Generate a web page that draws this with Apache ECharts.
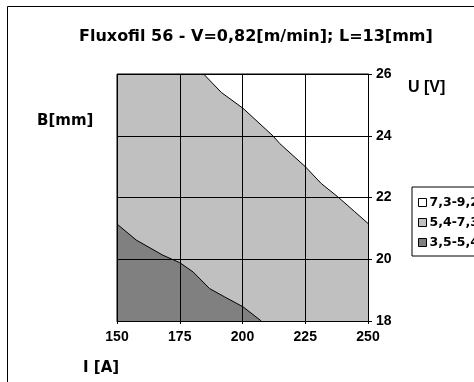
<!DOCTYPE html>
<html>
<head>
<meta charset="utf-8">
<script src="https://cdn.jsdelivr.net/npm/echarts@6/dist/echarts.min.js"></script>
<style>
html,body{margin:0;padding:0;background:#fff;}
#chart{width:474px;height:382px;}
</style>
</head>
<body>
<div id="chart"></div>
<script>
// ---- data ----
const titleText = 'Fluxofil 56 - V=0,82[m/min]; L=13[mm]';
const xTicks = [150, 175, 200, 225, 250];
const yTicks = [18, 20, 22, 24, 26];
const levelNames = ['7,3-9,2', '5,4-7,3', '3,5-5,4'];
const levelColors = ['#ffffff', '#c0c0c0', '#808080'];

// boundary between 7,3-9,2 (above) and 5,4-7,3
const upperI = [184.5, 191.6, 200.2, 212.2, 214.8, 225.0, 231.4, 238.0, 244.7, 250.0];
const upperU = [26.0, 25.4, 24.89, 23.99, 23.75, 23.0, 22.45, 22.02, 21.54, 21.16];
// boundary between 5,4-7,3 and 3,5-5,4 (below)
const lowerI = [150.0, 157.7, 168.3, 175.0, 180.3, 186.9, 192.9, 200.2, 207.5];
const lowerU = [21.14, 20.62, 20.13, 19.89, 19.59, 19.05, 18.78, 18.46, 18.0];
// middle level spans the whole plot
const fullI = [150, 250];
const fullU = [26, 26];

const pairs = (xs, ys) => xs.map((x, i) => [x, ys[i]]);

const chart = echarts.init(document.getElementById('chart'), null, {renderer: 'canvas'});
const tickFont = {fontFamily: 'Liberation Sans, Arial', fontWeight: 'bold', fontSize: 14, color: '#000'};

chart.setOption({
  animation: false,
  backgroundColor: '#fff',
  graphic: [
    {type: 'rect', shape: {x: 7.5, y: 6.5, width: 520, height: 420}, style: {fill: 'none', stroke: '#000', lineWidth: 1}, z: 0},
    {type: 'text', left: 37, top: 114, style: {text: 'B[mm]', font: 'bold 15px "DejaVu Sans"', fill: '#000'}},
    {type: 'text', left: 408, top: 80, style: {text: 'U [V]', font: 'bold 16px "Liberation Sans"', fill: '#000'}},
    {type: 'text', left: 83, top: 361, style: {text: 'I [A]', font: 'bold 15px "DejaVu Sans"', fill: '#000'}}
  ],
  title: {
    text: titleText,
    left: 74, top: 24,
    textStyle: {fontFamily: 'DejaVu Sans', fontWeight: 'bold', fontSize: 16, color: '#000'}
  },
  legend: {
    orient: 'vertical',
    left: 412, top: 187,
    padding: [9, 30, 7, 6],
    itemWidth: 8, itemHeight: 8, itemGap: 7,
    icon: 'rect',
    borderColor: '#000', borderWidth: 1,
    textStyle: {fontFamily: 'DejaVu Sans', fontWeight: 'bold', fontSize: 12.5, color: '#000', padding: [0,0,0,-2]},
    data: levelNames.map((n, i) => ({name: n, itemStyle: {color: levelColors[i], borderColor: '#000', borderWidth: 1}}))
  },
  grid: {
    left: 117, top: 74, width: 251, height: 247,
    outerBoundsMode: 'none', containLabel: false,
    show: true, backgroundColor: 'transparent', borderColor: '#000', borderWidth: 1
  },
  xAxis: {
    type: 'value', min: xTicks[0], max: xTicks[xTicks.length - 1], interval: 25,
    z: 10,
    axisLine: {show: true, lineStyle: {color: '#000', width: 1}},
    axisTick: {show: true, length: 3, lineStyle: {color: '#000'}},
    axisLabel: Object.assign({margin: 9}, tickFont),
    splitLine: {show: true, lineStyle: {color: '#000', width: 1}}
  },
  yAxis: {
    type: 'value', position: 'right', min: yTicks[0], max: yTicks[yTicks.length - 1], interval: 2,
    z: 10,
    axisLine: {show: true, lineStyle: {color: '#000', width: 1}},
    axisTick: {show: true, length: 4, lineStyle: {color: '#000'}},
    axisLabel: Object.assign({margin: 8}, tickFont),
    splitLine: {show: true, lineStyle: {color: '#000', width: 1}}
  },
  series: [
    {
      name: levelNames[1], type: 'line', data: pairs(fullI, fullU), symbol: 'none',
      color: levelColors[1], lineStyle: {width: 0}, areaStyle: {origin: 'start', color: levelColors[1], opacity: 1}, z: 1
    },
    {
      name: levelNames[0], type: 'line', data: pairs(upperI, upperU), symbol: 'none',
      color: levelColors[0], lineStyle: {width: 1, color: '#000'}, areaStyle: {origin: 'end', color: levelColors[0], opacity: 1}, z: 2
    },
    {
      name: levelNames[2], type: 'line', data: pairs(lowerI, lowerU), symbol: 'none',
      color: levelColors[2], lineStyle: {width: 1, color: '#000'}, areaStyle: {origin: 'start', color: levelColors[2], opacity: 1}, z: 2
    }
  ]
});
</script>
</body>
</html>
